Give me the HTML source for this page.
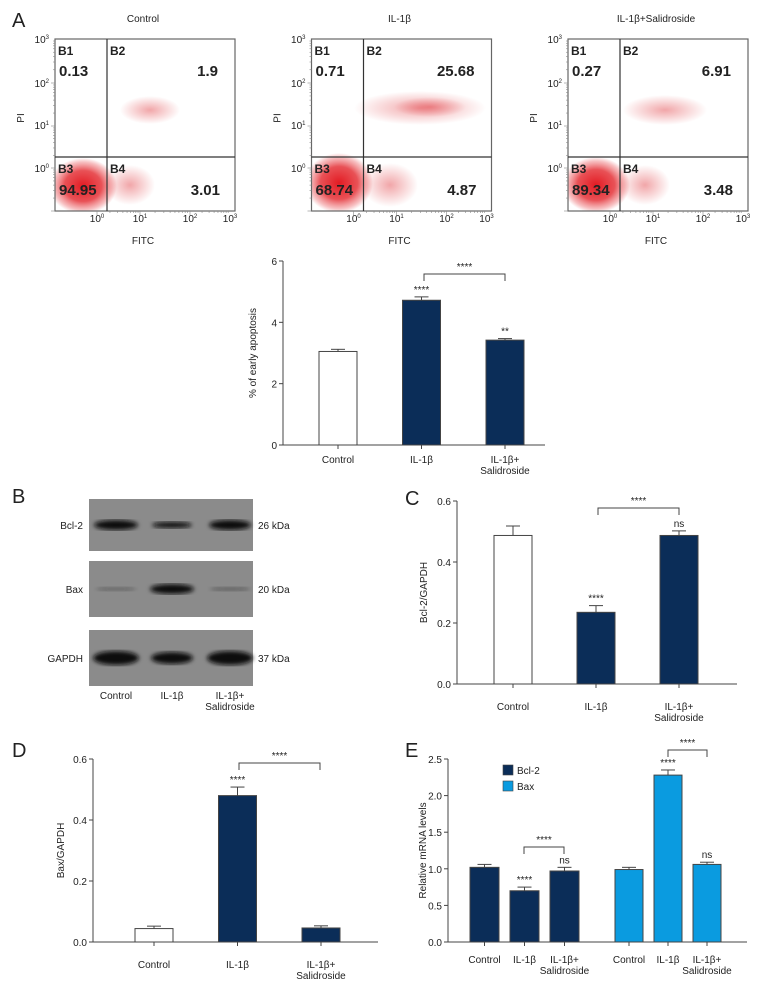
<!DOCTYPE html>
<html><head><meta charset="utf-8"><style>
html,body{margin:0;padding:0;background:#fff}
svg{display:block}
text{font-family:"Liberation Sans Narrow","Liberation Sans",sans-serif;fill:#222}
.big{font-size:20px}
.t{font-size:10px}
.bold{font-family:"Liberation Sans",sans-serif;font-weight:bold;fill:#222}
</style></head><body>
<svg id="fig" width="768" height="996" viewBox="0 0 768 996" xmlns="http://www.w3.org/2000/svg">
<defs>
<radialGradient id="dense"><stop offset="0" stop-color="#e31b23" stop-opacity="1"/><stop offset="0.55" stop-color="#e3262c" stop-opacity="0.8"/><stop offset="0.85" stop-color="#e8474c" stop-opacity="0.35"/><stop offset="1" stop-color="#e8474c" stop-opacity="0"/></radialGradient>
<radialGradient id="sparse"><stop offset="0" stop-color="#e0393f" stop-opacity="0.45"/><stop offset="1" stop-color="#e0393f" stop-opacity="0"/></radialGradient>
<filter id="blur"><feGaussianBlur stdDeviation="2"/></filter>
</defs>
</svg>
<script>
// ---- data ----
const flowTitles = ["Control", "IL-1β", "IL-1β+Salidroside"];
const flowB1 = ["0.13", "0.71", "0.27"];
const flowB2 = ["1.9", "25.68", "6.91"];
const flowB3 = ["94.95", "68.74", "89.34"];
const flowB4 = ["3.01", "4.87", "3.48"];

const groupCats = ["Control", "IL-1β", "IL-1β+|Salidroside"];
const apopValues = [3.05, 4.72, 3.42];
const apopErrors = [0.07, 0.11, 0.05];
const apopTicks = ["0", "2", "4", "6"];
const apopSig = ["", "****", "**"];

const bcl2Values = [0.487, 0.235, 0.487];
const bcl2Errors = [0.031, 0.022, 0.015];
const bcl2Sig = ["", "****", "ns"];
const ratioTicks = ["0.0", "0.2", "0.4", "0.6"];

const baxValues = [0.044, 0.48, 0.046];
const baxErrors = [0.008, 0.028, 0.007];
const baxSig = ["", "****", ""];

const mrnaBcl2 = [1.02, 0.70, 0.97];
const mrnaBcl2Err = [0.04, 0.05, 0.05];
const mrnaBcl2Sig = ["", "****", "ns"];
const mrnaBax = [0.99, 2.28, 1.06];
const mrnaBaxErr = [0.03, 0.07, 0.03];
const mrnaBaxSig = ["", "****", "ns"];
const mrnaTicks = ["0.0", "0.5", "1.0", "1.5", "2.0", "2.5"];

const NS = "http://www.w3.org/2000/svg";
const svg = document.getElementById("fig");
function mk(tag, attrs, parent) {
  const e = document.createElementNS(NS, tag);
  for (const k in attrs) e.setAttribute(k, attrs[k]);
  (parent || svg).appendChild(e);
  return e;
}
function txt(s, x, y, cls, anchor, parent) {
  const e = mk("text", {x: x, y: y, class: cls || "t", "text-anchor": anchor || "middle"}, parent);
  e.textContent = s;
  return e;
}
const NAVY = "#0b2d58", LBLUE = "#0a9be0", AX = "#444";

// ---- panel letters ----
[["A", 12, 27], ["B", 12, 503], ["C", 405, 505], ["D", 12, 757], ["E", 405, 757]].forEach(p => {
  const l = txt(p[0], p[1], p[2], "big", "start");
  
  
});

// ---- flow cytometry ----
const clusters = [
  [[83, 186, 34, 28, "dense"], [150, 110, 30, 14, "sparse"], [130, 185, 25, 20, "sparse"]],
  [[339, 183, 34, 30, "dense"], [420, 108, 66, 17, "sparse"], [430, 107, 36, 10, "sparse"], [390, 185, 28, 22, "sparse"]],
  [[596, 185, 34, 28, "dense"], [665, 110, 42, 15, "sparse"], [645, 185, 25, 20, "sparse"]]
];
for (let p = 0; p < 3; p++) {
  const ox = 55 + p * 256.5;
  const g = mk("g", {});
  
  
  const title = txt(flowTitles[p], ox + 88, 22, "t", "middle", g);
  
  
  const cp = mk("clipPath", {id: "clip" + p}, g);
  mk("rect", {x: ox, y: 39, width: 180, height: 172}, cp);
  const cg = mk("g", {"clip-path": "url(#clip" + p + ")"}, g);
  clusters[p].forEach(c => {
    const el = mk("ellipse", {cx: c[0], cy: c[1], rx: c[2], ry: c[3], fill: "url(#" + c[4] + ")"}, cg);
    
    
  });
  const box = mk("rect", {x: ox, y: 39, width: 180, height: 172, fill: "none", stroke: "#666", "stroke-width": 1.2}, g);
  
  
  const qv = mk("line", {x1: ox + 52, y1: 39, x2: ox + 52, y2: 211, stroke: "#333", "stroke-width": 1.2}, g);
  
  
  const qh = mk("line", {x1: ox, y1: 157, x2: ox + 180, y2: 157, stroke: "#333", "stroke-width": 1.2}, g);
  
  
  const yDec = [211, 168, 126, 83, 39];
  for (let d = 0; d < 4; d++) {
    for (let m = 1; m < 10; m++) {
      const y = yDec[d + 1] + (yDec[d] - yDec[d + 1]) * (1 - Math.log10(m));
      mk("line", {x1: ox - (m === 1 ? 4 : 2), y1: y, x2: ox, y2: y, stroke: "#888", "stroke-width": 0.6}, g);
    }
  }
  ["0", "1", "2", "3"].forEach((e, i) => {
    const t = txt("10", ox - 6, [172, 129, 87, 43][i], "t", "end", g);
    const s = mk("tspan", {dy: -4, "font-size": 6}, t); s.textContent = e;
  });
  const xDec = [ox + 42, ox + 85, ox + 135, ox + 175];
  ["0", "1", "2", "3"].forEach((e, i) => {
    const t = txt("10", xDec[i], 222, "t", "middle", g);
    const s = mk("tspan", {dy: -4, "font-size": 6}, t); s.textContent = e;
    for (let m = 1; m < 10 && i < 3; m++) {
      const x = xDec[i] + (xDec[i + 1] - xDec[i]) * Math.log10(m);
      mk("line", {x1: x, y1: 211, x2: x, y2: 211 + (m === 1 ? 4 : 2), stroke: "#888", "stroke-width": 0.6}, g);
    }
  });
  const xl = txt("FITC", ox + 88, 244, "t", "middle", g);
  
  
  const yl = txt("PI", 0, 0, "t", "middle", g);
  yl.setAttribute("transform", "translate(" + (ox - 31) + ",118) rotate(-90)");
  
  
  [["B1", ox + 3, 55], ["B2", ox + 55, 55], ["B3", ox + 3, 173], ["B4", ox + 55, 173]].forEach(b => {
    const t = txt(b[0], b[1], b[2], "bold", "start", g);
    t.setAttribute("font-size", "12");
    
    
  });
  [[flowB1[p], ox + 4, 76, "start"], [flowB2[p], ox + 163, 76, "end"], [flowB3[p], ox + 4, 195, "start"], [flowB4[p], ox + 165, 195, "end"]].forEach(v => {
    const t = txt(v[0], v[1], v[2], "bold", v[3], g);
    t.setAttribute("font-size", "15");
    
    
  });
}

// ---- bar chart helper ----
function catLabel(s, cx, y, g) {
  const parts = s.split("|");
  parts.forEach((p, i) => {
    const t = txt(p, cx, y + i * 11, "t", "middle", g);
    
    
  });
}
function drawAxes(c, g) {
  const ya = mk("line", {x1: c.ax, y1: c.yTop, x2: c.ax, y2: c.y0, stroke: AX, "stroke-width": 1}, g);
  
  
  const xa = mk("line", {x1: c.ax, y1: c.y0, x2: c.xEnd, y2: c.y0, stroke: AX, "stroke-width": 1}, g);
  
  
  c.ticks.forEach(tk => {
    const y = c.y(parseFloat(tk));
    mk("line", {x1: c.ax - 4, y1: y, x2: c.ax, y2: y, stroke: AX}, g);
    const t = txt(tk, c.ax - 6, y + 4, "t", "end", g);
    t.setAttribute("font-size", "11");
    
    
  });
  const yt = txt(c.title, 0, 0, "t", "middle", g);
  yt.setAttribute("transform", "translate(" + c.titleX + "," + ((c.yTop + c.y0) / 2) + ") rotate(-90)");
  
  
}
function drawSeries(c, g, values, errors, sig, x0, step, w, fills, labelY) {
  values.forEach((v, i) => {
    const x = x0 + i * step, cx = x + w / 2;
    const top = c.y(v), et = c.y(v + errors[i]);
    mk("line", {x1: cx, y1: top, x2: cx, y2: et, stroke: AX, "stroke-width": 1}, g);
    mk("line", {x1: cx - 7, y1: et, x2: cx + 7, y2: et, stroke: AX, "stroke-width": 1}, g);
    const b = mk("rect", {x: x, y: top, width: w, height: c.y0 - top, fill: fills[i], stroke: AX, "stroke-width": 1}, g);
    
    
    mk("line", {x1: cx, y1: c.y0, x2: cx, y2: c.y0 + 4, stroke: AX}, g);
    catLabel(groupCats[i], cx, labelY, g);
    if (sig[i]) {
      const s = txt(sig[i], cx, et - 4, "t", "middle", g);
      
      
    }
  });
}
function bracket(g, x1, x2, y, label) {
  mk("polyline", {points: x1 + "," + (y + 7) + " " + x1 + "," + y + " " + x2 + "," + y + " " + x2 + "," + (y + 7), fill: "none", stroke: AX}, g);
  const t = txt(label, (x1 + x2) / 2, y - 4, "t", "middle", g);
  
  
}
function chart(ax, y0, yTop, max, xEnd, ticks, title, titleX) {
  return {ax, y0, yTop, xEnd, ticks, title, titleX, y: v => y0 - (v / max) * (y0 - yTop)};
}

// ---- A bar chart ----
const gA = mk("g", {});


const cA = chart(283, 445, 261, 6, 545, apopTicks, "% of early apoptosis", 256);
drawAxes(cA, gA);
drawSeries(cA, gA, apopValues, apopErrors, apopSig, 319, 83.5, 38, ["#fff", NAVY, NAVY], 463);
bracket(gA, 424, 505, 274, "****");

// ---- B western blot ----
const gB = mk("g", {});


const blots = [["Bcl-2", "26 kDa", 499, 551, [[44, 10, 1], [40, 6, 1], [42, 10, 1]]],
               ["Bax", "20 kDa", 561, 617, [[40, 4, 0.3], [44, 10, 1], [40, 4, 0.35]]],
               ["GAPDH", "37 kDa", 630, 686, [[46, 14, 1], [42, 12, 1], [46, 14, 1]]]];
const lanes = [116, 172, 230];
blots.forEach(b => {
  const r = mk("rect", {x: 89, y: b[2], width: 164, height: b[3] - b[2], fill: "#8b8b8b"}, gB);
  
  
  const cy = (b[2] + b[3]) / 2;
  b[4].forEach((bd, i) => {
    const e = mk("ellipse", {cx: lanes[i], cy: cy, rx: bd[0] / 2, ry: bd[1] / 2, fill: "#0c0c0c", opacity: bd[2], filter: "url(#blur)"}, gB);
    
    
  });
  const l = txt(b[0], 83, cy + 4, "t", "end", gB);
  l.setAttribute("font-size", "11");
  
  
  const k = txt(b[1], 258, cy + 4, "t", "start", gB);
  k.setAttribute("font-size", "11");
  
  
});
lanes.forEach((x, i) => catLabel(groupCats[i], x, 699, gB));

// ---- C ----
const gC = mk("g", {});


const cC = chart(457, 684, 501, 0.6, 737, ratioTicks, "Bcl-2/GAPDH", 427);
drawAxes(cC, gC);
drawSeries(cC, gC, bcl2Values, bcl2Errors, bcl2Sig, 494, 83, 38, ["#fff", NAVY, NAVY], 710);
bracket(gC, 598, 679, 508, "****");

// ---- D ----
const gD = mk("g", {});


const cD = chart(93, 942, 759, 0.6, 378, ratioTicks, "Bax/GAPDH", 64);
drawAxes(cD, gD);
drawSeries(cD, gD, baxValues, baxErrors, baxSig, 135, 83.5, 38, ["#fff", NAVY, NAVY], 968);
bracket(gD, 239, 320, 763, "****");

// ---- E ----
const gE = mk("g", {});


const cE = chart(448, 942, 759, 2.5, 747, mrnaTicks, "Relative mRNA levels", 426);
drawAxes(cE, gE);
drawSeries(cE, gE, mrnaBcl2, mrnaBcl2Err, mrnaBcl2Sig, 470, 40, 29, [NAVY, NAVY, NAVY], 963);
drawSeries(cE, gE, mrnaBax, mrnaBaxErr, mrnaBaxSig, 615, 39, 28, [LBLUE, LBLUE, LBLUE], 963);
bracket(gE, 524, 564, 847, "****");
bracket(gE, 668, 707, 750, "****");
[["Bcl-2", NAVY, 765], ["Bax", LBLUE, 781]].forEach(l => {
  const sw = mk("rect", {x: 503, y: l[2], width: 10, height: 10, fill: l[1], stroke: AX, "stroke-width": 0.6}, gE);
  
  
  const t = txt(l[0], 517, l[2] + 9, "t", "start", gE);
  t.setAttribute("font-size", "11");
  
  
});
</script>
</body></html>
